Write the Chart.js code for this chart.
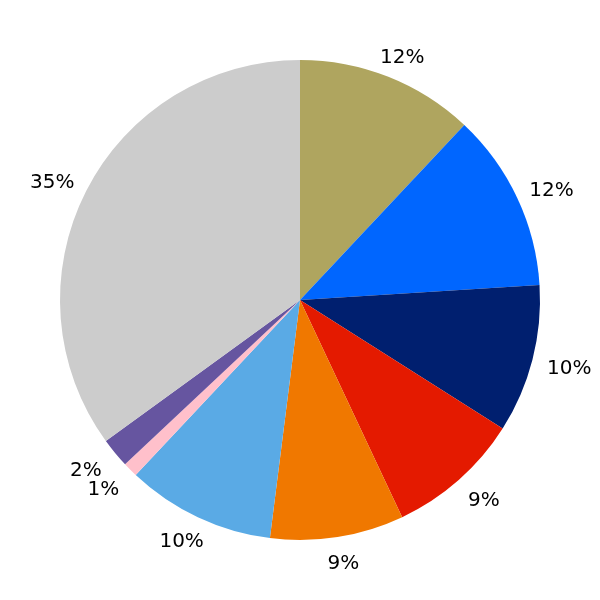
<!DOCTYPE html>
<html>
<head>
<meta charset="utf-8">
<script src="https://cdn.jsdelivr.net/npm/chart.js@4"></script>
<style>
  html, body { margin: 0; padding: 0; background: #fff; }
  #pieChart { display: block; }
</style>
</head>
<body>
<canvas id="pieChart" width="600" height="600"></canvas>
<script>
// slice shares, clockwise from 12 o'clock
var labels = ["A", "B", "C", "D", "E", "F", "G", "H", "I"];
var shares = [12, 12, 10, 9, 9, 10, 1, 2, 35];
var colors = ['#afa55f', '#0066ff', '#001f6f', '#e41a00', '#f07800',
              '#5aaae5', '#ffc0cb', '#6655a0', '#cccccc'];

// percentage labels outside each slice
var outsideLabels = {
    id: 'outsideLabels',
    afterDatasetsDraw: function (chart) {
        var ctx = chart.ctx;
        var meta = chart.getDatasetMeta(0);
        var total = shares.reduce(function (a, b) { return a + b; }, 0);
        ctx.save();
        ctx.font = '20px "DejaVu Sans"';
        ctx.fillStyle = '#000';
        ctx.textAlign = 'center';
        ctx.textBaseline = 'middle';
        meta.data.forEach(function (arc, i) {
            var mid = (arc.startAngle + arc.endAngle) / 2;
            var r = arc.outerRadius * 1.1;
            var x = arc.x + Math.cos(mid) * r + 14 * Math.cos(mid);
            var y = arc.y + Math.sin(mid) * r + 3;
            var pct = Math.round(shares[i] / total * 100) + '%';
            ctx.fillText(pct, x, y);
        });
        ctx.restore();
    }
};

var chrt = document.getElementById("pieChart").getContext("2d");
var pieChart = new Chart(chrt, {
    type: 'pie',
    data: {
        labels: labels,
        datasets: [{
            data: shares,
            backgroundColor: colors,
            borderWidth: 0
        }]
    },
    options: {
        responsive: false,
        animation: false,
        layout: { padding: 60 },
        plugins: {
            legend: { display: false },
            tooltip: { enabled: false }
        }
    },
    plugins: [outsideLabels]
});
</script>
</body>
</html>
